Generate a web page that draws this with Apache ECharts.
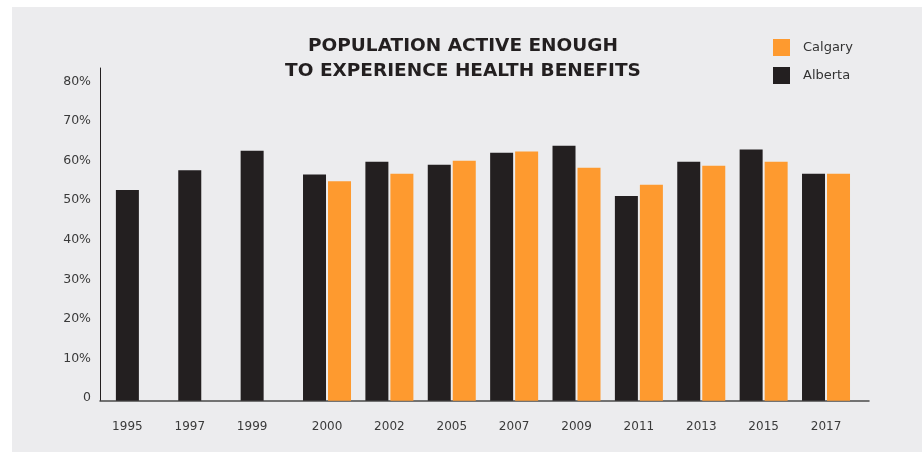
<!DOCTYPE html>
<html>
<head>
<meta charset="utf-8">
<title>Population Active Enough to Experience Health Benefits</title>
<script src="https://cdn.jsdelivr.net/npm/echarts@6/dist/echarts.min.js"></script>
<style>
  html, body { margin: 0; padding: 0; background: #ffffff; }
  #panel { position: absolute; left: 12px; top: 7px; right: 0; bottom: 0; background: #ECECEE; }
  #chart { position: absolute; left: 0; top: 0; width: 922px; height: 452px; }
</style>
</head>
<body>
<div id="panel"></div>
<div id="chart"></div>
<script>
// Survey years
const years = ['1995', '1997', '1999', '2000', '2002', '2005', '2007', '2009', '2011', '2013', '2015', '2017'];
// Share of population active enough for health benefits (%)
const alberta = [53.2, 58.2, 63.1, 57.1, 60.3, 59.6, 62.6, 64.4, 51.7, 60.3, 63.4, 57.3];
const calgary = [null, null, null, 55.4, 57.3, 60.6, 62.9, 58.8, 54.5, 59.3, 60.3, 57.3];
// Y axis ticks
const yTicks = [0, 10, 20, 30, 40, 50, 60, 70, 80];

const DARK = '#231F20';
const ORANGE = '#FE9A2F';
const FONT = '"DejaVu Sans", sans-serif';

const chart = echarts.init(document.getElementById('chart'), null, { renderer: 'canvas' });

const yMax = 84;
const plotTop = 68;
const plotBottom = 452 - 400.7;

chart.setOption({
  backgroundColor: 'transparent',
  animation: false,
  title: {
    text: 'POPULATION ACTIVE ENOUGH\nTO EXPERIENCE HEALTH BENEFITS',
    left: 463,
    top: 34,
    padding: 0,
    textAlign: 'center',
    textStyle: {
      fontFamily: FONT,
      fontWeight: 'bold',
      fontSize: 18.5,
      lineHeight: 25,
      color: DARK
    }
  },
  legend: {
    data: ['Calgary', 'Alberta'],
    orient: 'vertical',
    left: 773,
    top: 39,
    padding: 0,
    itemWidth: 17,
    itemHeight: 17,
    itemGap: 11,
    icon: 'rect',
    textStyle: {
      fontFamily: FONT,
      fontSize: 13,
      color: '#333333',
      padding: [0, 0, 0, 8]
    }
  },
  grid: [
    // frame carrying the axis lines and the percentage labels
    { left: 100, right: 53, top: plotTop, bottom: plotBottom },
    // frame holding the bars
    { left: 108.7, right: 64.8, top: plotTop, bottom: plotBottom }
  ],
  xAxis: [
    {
      gridIndex: 0, type: 'value', min: 0, max: 1,
      axisLine: { show: true, lineStyle: { color: '#4a4a4a', width: 1.5 } },
      axisTick: { show: false }, axisLabel: { show: false }, splitLine: { show: false }
    },
    {
      gridIndex: 1, type: 'category', data: years,
      axisLine: { show: false }, axisTick: { show: false }, splitLine: { show: false },
      axisLabel: {
        margin: 20,
        interval: 0,
        fontFamily: FONT,
        fontSize: 12,
        color: '#3a3a3a',
        formatter: (v, i) => (calgary[i] == null ? '{s|' + v + '}' : '{n|' + v + '}'),
        rich: {
          s: { fontFamily: FONT, fontSize: 12, color: '#3a3a3a', padding: [0, 25, 0, 0] },
          n: { fontFamily: FONT, fontSize: 12, color: '#3a3a3a' }
        }
      }
    }
  ],
  yAxis: [
    {
      gridIndex: 0, type: 'value', min: yTicks[0], max: yMax, interval: yTicks[1] - yTicks[0],
      axisLine: { show: true, lineStyle: { color: DARK, width: 1 } },
      axisTick: { show: false }, splitLine: { show: false },
      axisLabel: {
        showMaxLabel: false,
        margin: 9,
        fontFamily: FONT,
        fontSize: 12.5,
        color: '#3a3a3a',
        formatter: v => (yTicks.indexOf(v) < 0 ? '' : '{p|' + (v === 0 ? '0' : v + '%') + '}'),
        rich: {
          p: { fontFamily: FONT, fontSize: 12.5, color: '#3a3a3a', padding: [0, 0, 5, 0] }
        }
      }
    },
    {
      gridIndex: 1, type: 'value', min: yTicks[0], max: yMax, show: false
    }
  ],
  series: [
    {
      name: 'Alberta', type: 'bar', xAxisIndex: 1, yAxisIndex: 1,
      data: alberta, barWidth: 23, barGap: '8.7%',
      itemStyle: { color: DARK }
    },
    {
      name: 'Calgary', type: 'bar', xAxisIndex: 1, yAxisIndex: 1,
      data: calgary, barWidth: 23, barGap: '8.7%',
      itemStyle: { color: ORANGE }
    }
  ]
});
</script>
</body>
</html>
